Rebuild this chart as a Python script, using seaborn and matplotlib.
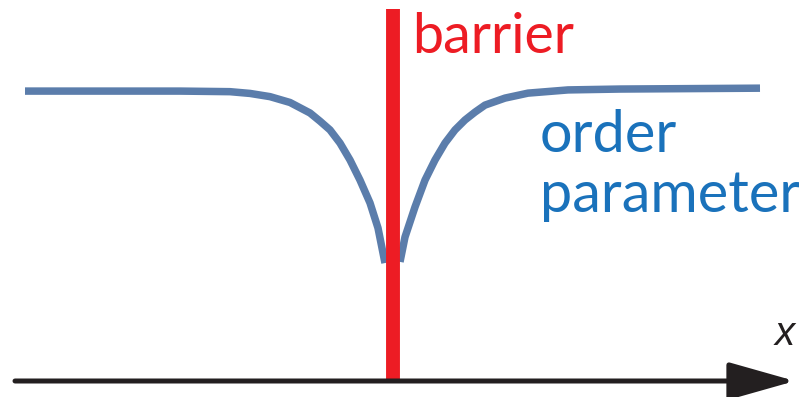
import matplotlib
matplotlib.use("Agg")
import matplotlib.pyplot as plt
import seaborn as sns
import pandas as pd

# order parameter profile on each side of the barrier (x in arbitrary units, barrier at 0)
x_left = [-9.2, -5.325, -4.075, -3.575, -3.075, -2.575, -2.075, -1.825, -1.575,
          -1.325, -1.075, -0.825, -0.575, -0.375, -0.2]
psi_left = [0.993, 0.993, 0.991, 0.985, 0.974, 0.954, 0.918, 0.890, 0.860,
            0.815, 0.757, 0.688, 0.610, 0.524, 0.404]
x_right = [0.175, 0.3, 0.55, 0.8, 1.05, 1.3, 1.55, 1.8, 2.05, 2.3, 2.8, 3.375,
           4.375, 5.675, 9.175]
psi_right = [0.408, 0.493, 0.596, 0.688, 0.757, 0.815, 0.860, 0.894, 0.921, 0.945,
             0.969, 0.986, 0.997, 1.0, 1.003]
barrier_x = 0.0

CURVE = "#5B7DAB"
TEXT_BLUE = "#1A72BB"
RED = "#ED1C24"
BLACK = "#231F20"

sns.set_style("white")
plt.rcParams["font.family"] = ["Lato", "DejaVu Sans"]

df = pd.concat([
    pd.DataFrame({"x": x_left, "psi": psi_left, "side": "left"}),
    pd.DataFrame({"x": x_right, "psi": psi_right, "side": "right"}),
])

fig = plt.figure(figsize=(7.99, 3.97), dpi=100)
ax = fig.add_axes([0, 0, 1, 1])

sns.lineplot(data=df, x="x", y="psi", units="side", estimator=None, sort=False,
             color=CURVE, lw=5.4, ax=ax, zorder=2, legend=False)
for ln in ax.lines:
    ln.set_solid_capstyle("butt")
    ln.set_solid_joinstyle("round")

ax.vlines(barrier_x, -0.007, 1.274, color=RED, lw=10, zorder=3)

# horizontal x axis with arrow
ax.annotate("", xy=(10.05, 0.0), xytext=(-9.45, 0.0),
            arrowprops=dict(arrowstyle="-|>,head_length=2.05,head_width=0.58",
                            mutation_scale=20, lw=3.6, color=BLACK,
                            shrinkA=0, shrinkB=0), zorder=4)

ax.text(0.475, 1.123, "barrier", color=RED, fontsize=40, ha="left", va="baseline")
ax.text(3.675, 0.784, "order", color=TEXT_BLUE, fontsize=41.5, ha="left", va="baseline")
ax.text(3.675, 0.579, "parameter", color=TEXT_BLUE, fontsize=41.5, ha="left", va="baseline")
ax.text(9.55, 0.123, "x", color=BLACK, fontsize=29, style="italic",
        family=["Liberation Sans", "DejaVu Sans"], ha="left", va="baseline")

ax.set_xlim(-9.825, 10.15)
ax.set_ylim(-0.0548, 1.305)
ax.axis("off")

fig.savefig("out.png", dpi=100)
